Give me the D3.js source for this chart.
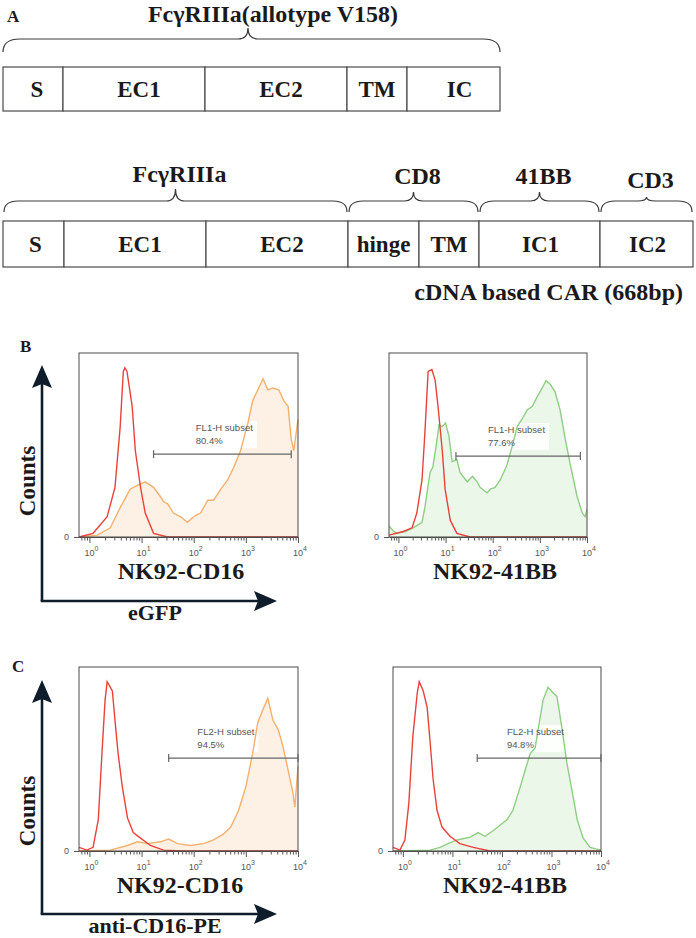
<!DOCTYPE html>
<html><head><meta charset="utf-8">
<script src="https://cdn.jsdelivr.net/npm/d3@7"></script>
<style>body{margin:0;background:#fff} svg{display:block}</style>
</head><body>
<svg id="c" width="696" height="938"></svg>
<script>
// ---------------- Panel A data ----------------
const car1Title = "FcγRIIIa(allotype V158)";
const car1Domains = ["S","EC1","EC2","TM","IC"];
const car1Lengths = [60,142,142,60,93];
const car2Domains = ["S","EC1","EC2","hinge","TM","IC1","IC2"];
const car2Lengths = [61,142,142,71,60,121,93];
const car2Groups = ["FcγRIIIa","CD8","41BB","CD3"];
const car2GroupSpans = [[0,2],[3,4],[5,5],[6,6]];
const car2Caption = "cDNA based CAR (668bp)";

// ---------------- Histogram data: [log10 fluorescence, % of max count] ----------------
const decadeTicks = [0,1,2,3,4];
const bCD16_ctrl = [[-0.2,0],[0.07,2],[0.34,11],[0.49,27],[0.59,60],[0.65,90],[0.68,92],[0.72,90],[0.82,71],[0.88,47],[0.98,27],[1.07,13],[1.23,2],[1.5,0],[4,0]];
const bCD16_car  = [[-0.2,0],[0.15,1],[0.4,5],[0.59,16],[0.78,26],[0.92,28],[1.07,30],[1.23,27],[1.36,22],[1.43,19],[1.5,18],[1.61,13],[1.75,11],[1.88,8],[2.0,11],[2.06,12],[2.13,13],[2.27,20],[2.38,20],[2.52,26],[2.65,31],[2.77,38],[2.9,47],[3.04,62],[3.13,74],[3.23,80],[3.33,86],[3.42,80],[3.52,81],[3.63,80],[3.73,74],[3.81,71],[3.87,53],[3.92,47],[4.0,64]];
const bBB_ctrl   = [[-0.2,1],[0.1,3],[0.29,5],[0.39,13],[0.5,31],[0.56,56],[0.63,90],[0.71,91],[0.78,85],[0.84,71],[0.93,47],[0.99,26],[1.1,9],[1.24,2],[1.52,0],[4,0]];
const bBB_car    = [[-0.2,6],[-0.1,3],[-0.03,2],[0.15,3],[0.31,5],[0.5,8],[0.56,16],[0.67,35],[0.73,38],[0.82,53],[0.86,61],[0.93,60],[1.0,62],[1.07,55],[1.14,41],[1.24,42],[1.31,35],[1.46,30],[1.57,33],[1.67,30],[1.73,27],[1.88,24],[1.95,26],[2.05,27],[2.16,31],[2.3,39],[2.41,49],[2.52,60],[2.62,64],[2.73,69],[2.84,71],[2.94,76],[3.05,81],[3.13,85],[3.22,83],[3.32,79],[3.43,69],[3.54,53],[3.64,40],[3.79,22],[3.9,13],[3.96,11],[4.0,15]];
const cCD16_ctrl = [[-0.2,2],[-0.05,0.5],[0.07,2],[0.17,17],[0.24,53],[0.3,82],[0.34,92],[0.44,87],[0.49,71],[0.55,53],[0.63,35],[0.73,18],[0.84,10],[0.98,7],[1.17,3],[1.42,0.5],[1.8,0],[4,0]];
const cCD16_car  = [[-0.2,0],[0.4,0.5],[0.73,3],[0.92,5],[1.11,4],[1.36,5],[1.52,6.5],[1.69,4],[1.94,3],[2.19,4],[2.38,6],[2.56,9],[2.71,13],[2.86,22],[3.0,35],[3.13,53],[3.23,70],[3.33,77],[3.42,83],[3.52,71],[3.62,66],[3.71,57],[3.81,44],[3.9,32],[3.94,24],[4.0,46]];
const cBB_ctrl   = [[-0.2,2],[-0.06,0.5],[0.04,6],[0.12,26],[0.2,62],[0.29,86],[0.33,92],[0.41,87],[0.49,78],[0.55,59],[0.61,39],[0.69,22],[0.79,13],[0.95,8],[1.15,4],[1.42,2],[1.76,0],[4,0]];
const cBB_car    = [[-0.2,0],[0.55,0.5],[0.75,2],[0.91,4],[1.09,6],[1.36,7.5],[1.52,10],[1.66,8],[1.82,11],[1.96,14],[2.1,17],[2.22,22],[2.37,35],[2.47,44],[2.57,53],[2.67,56],[2.73,66],[2.83,82],[2.93,89],[3.03,86],[3.11,84],[3.21,67],[3.31,48],[3.42,32],[3.52,17],[3.64,7],[3.78,2],[4.0,0.5]];

const sampleNames = ["NK92-CD16","NK92-41BB","NK92-CD16","NK92-41BB"];
const channelNames = ["eGFP","anti-CD16-PE"];
const gateNames = ["FL1-H subset","FL1-H subset","FL2-H subset","FL2-H subset"];
const gatePct = ["80.4%","77.6%","94.5%","94.8%"];
const gateFrom = [1.23,1.22,1.52,1.50];
const gateTo = [3.87,3.86,4.0,4.0];
const gateLevel = [45,44,50.5,50.5];
const gateTextAt = [2.04,1.90,2.07,2.10];

// ---------------- drawing ----------------
const svg = d3.select("#c");
const serif = "Liberation Serif";
const sans = "Liberation Sans";
const ink = "#1c1a19";

function bold(t, x, y, size, anchor) {
  return svg.append("text").attr("x", x).attr("y", y).attr("font-family", serif)
    .attr("font-weight", "bold").attr("font-size", size).attr("fill", ink)
    .attr("text-anchor", anchor || "middle").text(t);
}
function brace(x0, x1, xp, yEnd, yMid, yTop, r, rp) {
  const p = d3.path();
  p.moveTo(x0, yEnd);
  p.quadraticCurveTo(x0, yMid, x0 + r, yMid);
  p.lineTo(xp - rp, yMid);
  p.quadraticCurveTo(xp, yMid, xp, yTop);
  p.quadraticCurveTo(xp, yMid, xp + rp, yMid);
  p.lineTo(x1 - r, yMid);
  p.quadraticCurveTo(x1, yMid, x1, yEnd);
  svg.append("path").attr("d", p.toString()).attr("fill", "none")
    .attr("stroke", "#3a3a3a").attr("stroke-width", 1.2);
}
function domainRow(names, lengths, scale, yTop, h, labelDx) {
  const cum = [0]; lengths.forEach(l => cum.push(cum[cum.length - 1] + l));
  names.forEach((n, i) => {
    const a = scale(cum[i]), b = scale(cum[i + 1]);
    svg.append("rect").attr("x", a).attr("y", yTop).attr("width", b - a).attr("height", h)
      .attr("fill", "#fff").attr("stroke", "#4a4a4a").attr("stroke-width", 1.2);
    bold(n, (a + b) / 2 + labelDx[i], yTop + h / 2 + 8, 23);
  });
  return cum;
}

// Panel A
bold("A", 7, 22, 17, "start");
const sx1 = d3.scaleLinear().domain([0, d3.sum(car1Lengths)]).range([3, 500]);
bold(car1Title, 273, 22, 24);
brace(sx1(0), sx1(d3.sum(car1Lengths)), 248, 52, 39, 28, 17, 10);
domainRow(car1Domains, car1Lengths, sx1, 67, 44, [4, 5, 5, 0, 6]);

const sx2 = d3.scaleLinear().domain([0, d3.sum(car2Lengths)]).range([3, 693]);
const cum2 = domainRow(car2Domains, car2Lengths, sx2, 221, 46, [2, 5, 5, 0, 0, 1, 1]);
const braceTops = [189, 192, 192, 197];
const labelBase = [182, 184, 184, 188];
car2Groups.forEach((g, i) => {
  const a = sx2(cum2[car2GroupSpans[i][0]]), b = sx2(cum2[car2GroupSpans[i][1] + 1]);
  const xp = (a + b) / 2;
  brace(a + 1, b - 1, xp, 212, 201, braceTops[i], 14, 9);
  bold(g, xp + 4, labelBase[i], 24);
});
bold(car2Caption, 683, 300, 24, "end");

// Panels B, C
bold("B", 20, 352, 17, "start");
bold("C", 12, 672, 17, "start");

const panels = [
  {x0: 79, x1: 298, top: 353, zero: 537, ctrl: bCD16_ctrl, car: bCD16_car, line: "#f4b06c", fill: "#fdf1e5", lx: 181},
  {x0: 389, x1: 587, top: 353, zero: 537, ctrl: bBB_ctrl, car: bBB_car, line: "#8fce84", fill: "#ebf7e8", lx: 495},
  {x0: 79, x1: 298, top: 667, zero: 851, ctrl: cCD16_ctrl, car: cCD16_car, line: "#f4b06c", fill: "#fdf1e5", lx: 180},
  {x0: 393, x1: 601, top: 667, zero: 851, ctrl: cBB_ctrl, car: cBB_car, line: "#8fce84", fill: "#ebf7e8", lx: 505}
];

const minorVals = [];
for (let d = -1; d < 4; d++) for (let m = 1; m < 10; m++) {
  const v = m * Math.pow(10, d);
  if (v >= Math.pow(10, -0.2) && v <= 1e4) minorVals.push(v);
}
minorVals.push(1e4);

panels.forEach((p, i) => {
  const x = d3.scaleLog().domain([Math.pow(10, -0.2), 1e4]).range([p.x0, p.x1]);
  const y = d3.scaleLinear().domain([0, 100]).range([p.zero, p.zero - 184]);
  const g = svg.append("g");
  const area = d3.area().x(d => x(Math.pow(10, d[0]))).y0(y(0)).y1(d => y(d[1]));
  const line = d3.line().x(d => x(Math.pow(10, d[0]))).y(d => y(d[1]));
  g.append("path").attr("d", area(p.car)).attr("fill", p.fill);
  // gate label background
  const gx = x(Math.pow(10, gateTextAt[i])), gy = y(gateLevel[i]);
  g.append("rect").attr("x", gx - 3).attr("y", gy - 33).attr("width", 64).attr("height", 27)
    .attr("fill", "#fff").attr("opacity", 0.9);
  g.append("path").attr("d", line(p.car)).attr("fill", "none").attr("stroke", p.line).attr("stroke-width", 1.4);
  g.append("path").attr("d", line(p.ctrl)).attr("fill", "none").attr("stroke", "#e8423b").attr("stroke-width", 1.4);
  // box
  g.append("rect").attr("x", p.x0).attr("y", p.top).attr("width", p.x1 - p.x0).attr("height", p.zero - p.top)
    .attr("fill", "none").attr("stroke", "#4a4a4a").attr("stroke-width", 1);
  // gate
  const ga = x(Math.pow(10, gateFrom[i])), gb = x(Math.pow(10, gateTo[i]));
  g.append("line").attr("x1", ga).attr("x2", gb).attr("y1", gy).attr("y2", gy).attr("stroke", "#666").attr("stroke-width", 1.2);
  [ga, gb].forEach(v => g.append("line").attr("x1", v).attr("x2", v).attr("y1", gy - 4).attr("y2", gy + 4).attr("stroke", "#666").attr("stroke-width", 1.2));
  g.append("text").attr("x", gx).attr("y", gy - 23).attr("font-family", sans).attr("font-size", 9.5).attr("fill", "#555").text(gateNames[i]);
  g.append("text").attr("x", gx).attr("y", gy - 10).attr("font-family", sans).attr("font-size", 9.5).attr("fill", "#555").text(gatePct[i]);
  // x axis
  const ax = g.append("g").attr("transform", `translate(0,${p.zero})`)
    .call(d3.axisBottom(x).tickValues(minorVals).tickFormat("").tickSize(3).tickSizeOuter(0));
  ax.select(".domain").attr("stroke", "#4a4a4a");
  ax.selectAll(".tick line").attr("stroke", "#555")
    .attr("y2", d => Math.abs(Math.log10(d) - Math.round(Math.log10(d))) < 1e-6 ? 6 : 3.5);
  decadeTicks.forEach(e => {
    const t = g.append("text").attr("x", x(Math.pow(10, e)) + 2).attr("y", p.zero + 19)
      .attr("font-family", sans).attr("font-size", 9).attr("fill", "#555").attr("text-anchor", "middle");
    t.append("tspan").text("10");
    t.append("tspan").attr("dy", -5).attr("font-size", 7).text(e);
  });
  // y axis zero
  const ay = g.append("g").attr("transform", `translate(${p.x0},0)`)
    .call(d3.axisLeft(y).tickValues([0]).tickSize(5).tickSizeOuter(0));
  ay.select(".domain").remove();
  ay.selectAll(".tick line").attr("stroke", "#555");
  ay.selectAll(".tick text").attr("font-family", sans).attr("font-size", 9).attr("fill", "#555").attr("dx", -2);
  bold(sampleNames[i], p.lx, p.zero + 42, 24);
});

// Big arrow axes
const arrowRows = [{oy: 601, tipY: 365, lblY: 620, cy: 481}, {oy: 914, tipY: 680, lblY: 933, cy: 811}];
const arrowCol = "#0f1d2b";
arrowRows.forEach((a, i) => {
  const ox = 42, tipX = 277;
  svg.append("line").attr("x1", ox).attr("y1", a.oy).attr("x2", ox).attr("y2", a.tipY + 15).attr("stroke", arrowCol).attr("stroke-width", 2.6);
  svg.append("line").attr("x1", ox - 1.3).attr("y1", a.oy).attr("x2", tipX - 15).attr("y2", a.oy).attr("stroke", arrowCol).attr("stroke-width", 2.6);
  svg.append("path").attr("d", `M${ox},${a.tipY} L${ox + 10},${a.tipY + 23} L${ox},${a.tipY + 19} L${ox - 10},${a.tipY + 23} Z`).attr("fill", arrowCol);
  svg.append("path").attr("d", `M${tipX},${a.oy} L${tipX - 23},${a.oy - 10} L${tipX - 19},${a.oy} L${tipX - 23},${a.oy + 10} Z`).attr("fill", arrowCol);
  svg.append("text").attr("transform", `translate(35,${a.cy}) rotate(-90)`).attr("font-family", serif)
    .attr("font-weight", "bold").attr("font-size", 23).attr("fill", ink).attr("text-anchor", "middle").text("Counts");
  bold(channelNames[i], 155, a.lblY, 22);
});
</script>
</body></html>
